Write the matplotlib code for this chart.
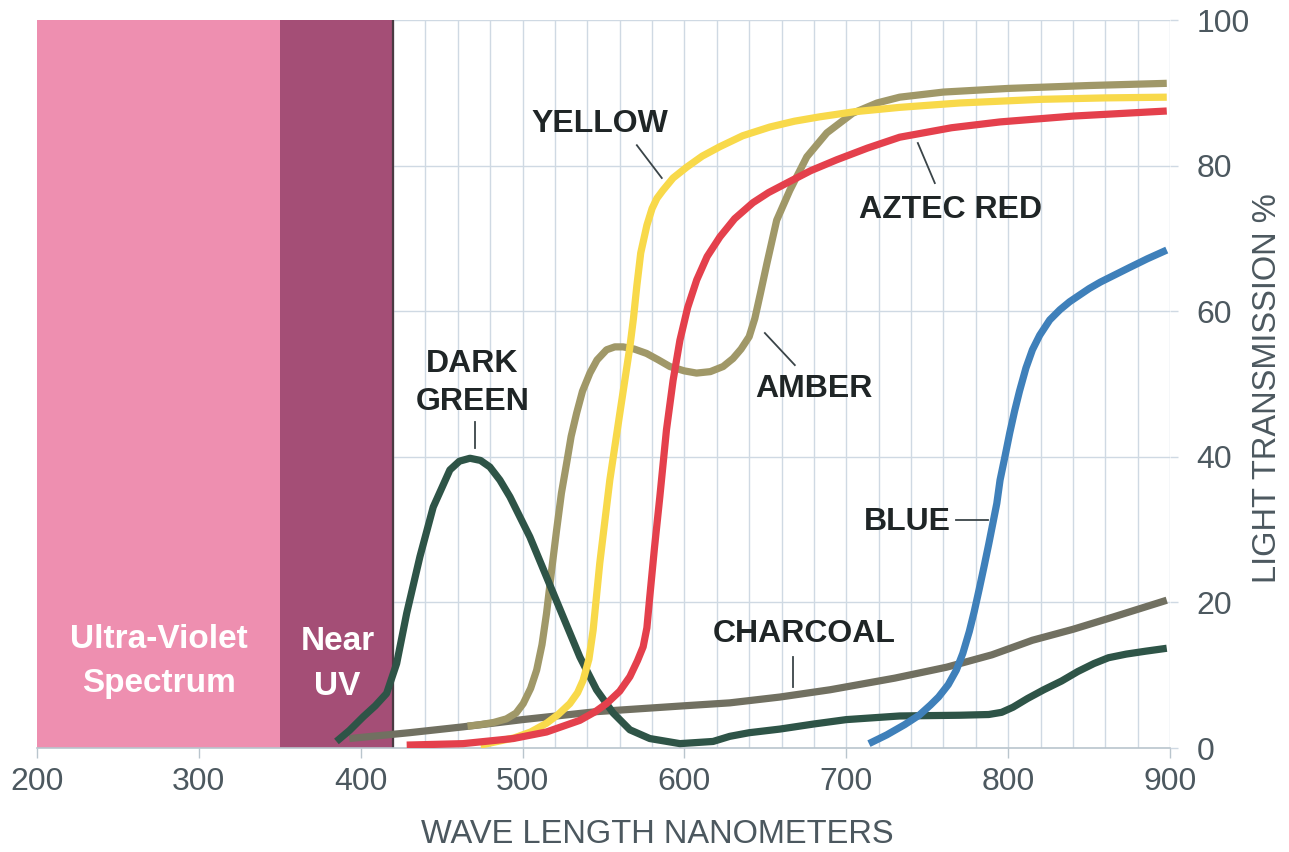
import numpy as np
import matplotlib
matplotlib.use("Agg")
import matplotlib.pyplot as plt

plt.rcParams['font.family'] = ['Liberation Sans', 'DejaVu Sans']

# --- data (wavelength nm, transmission %) ---
dark_green_x = [385, 393, 401.6, 409, 416, 422.2, 428.4, 436.6, 444.8, 455.1, 461, 467.5, 474, 479.8, 486,
                492.2, 504.5, 514.8, 525.1, 535.4, 545.7, 556, 566.3, 578.6, 597.2, 617.7, 628, 640, 659,
                680, 700, 733, 770, 788, 796, 803, 812, 822, 833, 843, 853, 862, 873, 885, 898]
dark_green_y = [0.9, 2.4, 4.3, 5.8, 7.5, 11.6, 18.5, 26.3, 33.1, 38.2, 39.4, 39.8, 39.5, 38.6, 36.8,
                34.5, 29, 23.5, 18, 12.5, 8, 4.8, 2.5, 1.3, 0.6, 0.9, 1.6, 2.1, 2.6,
                3.3, 3.9, 4.4, 4.5, 4.6, 4.9, 5.6, 6.8, 8.0, 9.2, 10.5, 11.6, 12.4, 12.9, 13.3, 13.7]

charcoal_x = [393, 430, 463, 500, 546, 600, 628, 659, 690, 730, 762, 790, 815, 840, 865, 898]
charcoal_y = [1.3, 2.1, 2.9, 3.9, 5.0, 5.8, 6.2, 7.0, 8.0, 9.6, 11.1, 12.8, 14.8, 16.3, 18.0, 20.3]

amber_x = [466, 473.6, 482, 490, 496, 500.4, 505, 508.7, 512, 514.8, 518, 521, 524, 527.2, 530, 533.4, 537,
           541.6, 546, 551.9, 557, 562.1, 569, 576.6, 584, 591, 600, 607.5, 616, 623.9, 630, 635, 640,
           643.5, 647, 651, 657, 665.1, 675.6, 688, 704, 719, 733, 760, 800, 850, 898]
amber_y = [3.0, 3.2, 3.5, 4.0, 4.8, 6.1, 8.2, 10.7, 14.2, 18.5, 24.5, 29.9, 35, 39.1, 42.8, 46, 49,
           51.5, 53.3, 54.7, 55.1, 55.1, 54.8, 54.2, 53.3, 52.4, 51.8, 51.5, 51.7, 52.4, 53.5, 54.8, 56.5,
           59, 62.5, 66.6, 72.5, 76.6, 81.2, 84.5, 87.2, 88.6, 89.4, 90.1, 90.6, 91.0, 91.3]

yellow_x = [474, 495, 505, 514.8, 522, 529.2, 534, 537.4, 541, 543.6, 547.7, 553.9, 560.1, 566.3, 568.5,
            570.6, 573, 576.8, 580, 583, 586.7, 593, 601.5, 611, 621.9, 636, 652.8, 668, 683.6, 705, 733,
            770, 820, 860, 898]
yellow_y = [0.4, 1.4, 2.2, 3.4, 4.6, 6.1, 7.6, 9.3, 12.2, 16.2, 25.4, 36.8, 46, 55.1, 59,
            63.5, 68, 71.8, 74.1, 75.5, 76.6, 78.3, 79.8, 81.3, 82.6, 84.1, 85.3, 86.1, 86.7, 87.4, 88,
            88.6, 89.1, 89.3, 89.4]

red_x = [428.4, 463.3, 494.2, 514.8, 535.4, 545, 551.9, 560, 566.3, 571, 574.5, 576.8, 578.6, 581.5,
         584.8, 588.9, 593, 597.2, 602, 607.6, 614, 621.9, 631, 642.3, 652, 663.2, 678, 694.1, 713, 733,
         765, 795, 840, 898]
red_y = [0.4, 0.6, 1.3, 2.2, 3.8, 5, 6.1, 7.8, 9.8, 12, 13.9, 16.5, 20.8, 27.5,
         34.5, 43.7, 50.5, 56, 60.5, 64.3, 67.5, 70.2, 72.7, 74.9, 76.3, 77.6, 79.3, 80.8, 82.4, 83.9,
         85.2, 86, 86.8, 87.5]

blue_x = [714, 725, 736, 745, 752, 757, 763, 768, 772, 776, 779, 782, 785, 788, 790.5, 793, 795, 798, 801,
          804, 807, 811, 815, 819.5, 825.7, 832, 838, 844, 850, 857, 866, 875, 886, 898]
blue_y = [0.6, 1.8, 3.2, 4.5, 5.9, 7, 8.7, 10.7, 13, 16, 18.7, 21.7, 24.8, 28, 30.8, 33.6, 36.8, 40, 43.3,
          46.3, 49.0, 52.2, 54.7, 56.7, 58.8, 60.2, 61.3, 62.2, 63.1, 64, 65, 66, 67.2, 68.4]

x_ticks = [200, 300, 400, 500, 600, 700, 800, 900]
y_ticks = [0, 20, 40, 60, 80, 100]

# --- figure ---
W, H = 1289, 852
fig = plt.figure(figsize=(W / 100, H / 100), dpi=100)
ax = fig.add_axes([37 / W, 1 - 748 / H, (1170 - 37) / W, (748 - 20) / H])
ax.set_xlim(200, 900)
ax.set_ylim(0, 100)

grid_c = "#cfd9e3"
ax.vlines(np.arange(420, 901, 20), 0, 100, color=grid_c, lw=1, zorder=1)
ax.hlines([20, 40, 60, 80, 100], 200, 900, color=grid_c, lw=1, zorder=1)

# UV bands
ax.axvspan(200, 350, color="#ee8fb0", lw=0, zorder=2)
ax.axvspan(350, 420, color="#a44e76", lw=0, zorder=2)
ax.axvline(420, color="#4a3a42", lw=1.6, zorder=2.5)

lw = 5.2
style = dict(lw=lw, solid_joinstyle="round", solid_capstyle="butt")
ax.plot(charcoal_x, charcoal_y, color="#717061", zorder=3, **style)
ax.plot(amber_x, amber_y, color="#a09868", zorder=3.1, **style)
ax.plot(dark_green_x, dark_green_y, color="#2e5447", zorder=3.2, **style)
ax.plot(yellow_x, yellow_y, color="#f8d94a", zorder=3.3, **style)
ax.plot(red_x, red_y, color="#e4404c", zorder=3.4, **style)
ax.plot(blue_x, blue_y, color="#3f80ba", zorder=3.5, **style)

# labels on curves
lab = dict(fontsize=23, fontweight="bold", color="#1f2526", ha="center", va="baseline", zorder=5)
ax.text(548, 84.6, "YELLOW", **lab)
ax.text(764.4, 72.8, "AZTEC RED", **lab)
ax.text(680, 48.2, "AMBER", **lab)
ax.text(674, 14.6, "CHARCOAL", **lab)
ax.text(738, 29.9, "BLUE", **lab)
ax.text(469, 51.6, "DARK", **lab)
ax.text(469, 46.4, "GREEN", **lab)

lead = dict(color="#3a4448", lw=1.3, zorder=5)
ax.plot([570.6, 586], [82.8, 78.3], **lead)
ax.plot([744.2, 754.7], [83.1, 77.6], **lead)
ax.plot([649.7, 668.2], [57, 52.6], **lead)
ax.plot([470.5, 470.5], [44.8, 41.2], **lead)
ax.plot([667.2, 667.2], [12.5, 8.4], **lead)
ax.plot([768, 787.5], [31.3, 31.3], **lead)

uv = dict(fontsize=24, fontweight="bold", color="white", ha="center", va="baseline", zorder=5)
ax.text(275.4, 13.7, "Ultra-Violet", **uv)
ax.text(275.4, 7.7, "Spectrum", **uv)
ax.text(385.6, 13.5, "Near", **uv)
ax.text(385.6, 7.3, "UV", **uv)

# axes styling
for s in ["top", "left", "right"]:
    ax.spines[s].set_visible(False)
ax.spines["bottom"].set_color("#b9c5cd")
ax.spines["bottom"].set_linewidth(1.2)
ax.spines["bottom"].set_zorder(2.6)

ax.set_xticks(x_ticks)
ax.set_yticks(y_ticks)
ax.yaxis.tick_right()
ax.tick_params(axis="x", length=7, width=1, color="#b9c5cd", labelsize=23, labelcolor="#4c585f", pad=7)
ax.tick_params(axis="y", length=6, width=1, color=grid_c, labelsize=23, labelcolor="#4c585f", pad=13)

fig.text(657 / W, 1 - 843 / H, "WAVE LENGTH NANOMETERS", fontsize=23.5, color="#4c585f",
         ha="center", va="baseline")
fig.text(1267 / W, 1 - 388 / H, "LIGHT TRANSMISSION %", fontsize=23.5, color="#4c585f",
         ha="center", va="center", rotation=90)

plt.savefig("out.png", dpi=100, facecolor="white")
plt.close()
